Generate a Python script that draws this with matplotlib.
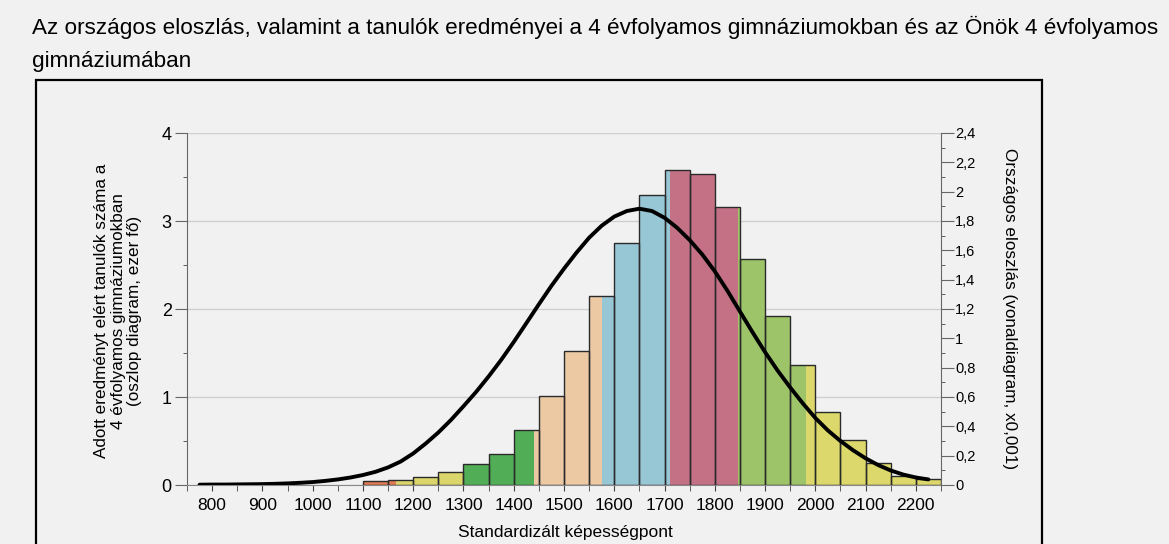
import numpy as np
import matplotlib.pyplot as plt
from matplotlib.patches import Rectangle
from matplotlib.ticker import MultipleLocator, FuncFormatter

plt.rcParams['font.family'] = ['Liberation Sans', 'DejaVu Sans']

BG = "#f1f1f1"

# Histogram: students of 4-year gimnáziums (thousands), bins of 50 points
bin_left = [1100, 1150, 1200, 1250, 1300, 1350, 1400, 1450, 1500, 1550, 1600, 1650,
            1700, 1750, 1800, 1850, 1900, 1950, 2000, 2050, 2100, 2150, 2200]
bin_height = [0.04, 0.055, 0.09, 0.15, 0.24, 0.35, 0.62, 1.01, 1.52, 2.15, 2.75, 3.29,
              3.58, 3.53, 3.16, 2.57, 1.92, 1.36, 0.83, 0.51, 0.25, 0.10, 0.065]
BIN_W = 50

# Proficiency level bands (colour changes inside bars)
level_edges = [1100, 1166, 1302, 1440, 1576, 1711, 1846, 1981, 2250]
level_colors = ["#e07b53", "#dbd66c", "#52ae56", "#ecc8a3", "#97c6d5",
                "#c47186", "#9dc469", "#dcd86b"]

# National distribution curve (right axis, x0.001)
curve_x = [775, 800, 825, 850, 875, 900, 925, 950, 975, 1000, 1025, 1050, 1075,
           1100, 1125, 1150, 1175, 1200, 1225, 1250, 1275, 1300, 1325, 1350, 1375,
           1400, 1425, 1450, 1475, 1500, 1525, 1550, 1575, 1600, 1625, 1650, 1675,
           1700, 1725, 1750, 1775, 1800, 1825, 1850, 1875, 1900, 1925, 1950, 1975,
           2000, 2025, 2050, 2075, 2100, 2125, 2150, 2175, 2200, 2225]
curve_y = [0.002, 0.003, 0.003, 0.004, 0.005, 0.006, 0.008, 0.011, 0.015, 0.020,
           0.028, 0.038, 0.051, 0.068, 0.090, 0.120, 0.160, 0.215, 0.283, 0.358,
           0.443, 0.537, 0.634, 0.740, 0.853, 0.975, 1.103, 1.232, 1.358, 1.475,
           1.585, 1.686, 1.768, 1.830, 1.868, 1.884, 1.868, 1.822, 1.754, 1.670,
           1.572, 1.457, 1.325, 1.183, 1.042, 0.906, 0.780, 0.665, 0.557, 0.457,
           0.372, 0.300, 0.237, 0.182, 0.136, 0.099, 0.071, 0.051, 0.038]

x_ticks = list(range(800, 2201, 100))

fig = plt.figure(figsize=(11.69, 5.44), dpi=100, facecolor=BG)
W, H = 1169, 544
ax = fig.add_axes([187 / W, 1 - 485 / H, (941 - 187) / W, (485 - 133) / H])
ax.set_facecolor(BG)

# coloured bar segments
for left, h in zip(bin_left, bin_height):
    right = left + BIN_W
    for i in range(len(level_colors)):
        a = max(left, level_edges[i])
        b = min(right, level_edges[i + 1])
        if b > a:
            ax.bar(a, h, width=b - a, align="edge", color=level_colors[i],
                   linewidth=0, zorder=2)
    ax.bar(left, h, width=BIN_W, align="edge", fill=False,
           edgecolor="#2a2a2a", linewidth=1.0, zorder=3)

ax.set_xlim(750, 2250)
ax.set_ylim(0, 4)
ax.set_xticks(x_ticks)
ax.xaxis.set_minor_locator(MultipleLocator(50))
ax.yaxis.set_major_locator(MultipleLocator(1))
ax.yaxis.set_minor_locator(MultipleLocator(0.5))
ax.grid(axis="y", color="#cfcfcf", linewidth=1.0, zorder=0)
ax.set_axisbelow(True)
ax.tick_params(axis="x", which="both", length=4, color="#444444", labelsize=12.5, pad=5)
ax.tick_params(axis="y", which="major", length=9, color="#666666", labelsize=13, pad=2)
ax.tick_params(axis="y", which="minor", length=3, color="#444444")
for s in ["top", "right"]:
    ax.spines[s].set_visible(False)
ax.spines["left"].set_color("#666666")
ax.spines["bottom"].set_color("#888888")

ax2 = ax.twinx()
ax2.patch.set_visible(False)
ax2.plot(curve_x, curve_y, color="black", linewidth=2.8, zorder=5,
         solid_capstyle="round", solid_joinstyle="round")
ax2.set_ylim(0, 2.4)
ax2.yaxis.set_major_locator(MultipleLocator(0.2))
ax2.yaxis.set_minor_locator(MultipleLocator(0.1))
ax2.yaxis.set_major_formatter(FuncFormatter(lambda v, p: f"{v:g}".replace(".", ",")))
ax2.tick_params(axis="y", which="major", length=9, color="#666666", labelsize=10.5, pad=1)
ax2.tick_params(axis="y", which="minor", length=3, color="#444444")
for s in ["top", "left", "bottom"]:
    ax2.spines[s].set_visible(False)
ax2.spines["right"].set_color("#666666")

# labels
fig.text(118 / W, 1 - 311 / H,
         "Adott eredményt elért tanulók száma a\n4 évfolyamos gimnáziumokban\n(oszlop diagram, ezer fő)",
         rotation=90, ha="center", va="center", fontsize=12.3, linespacing=1.15)
fig.text(1009 / W, 1 - 309 / H, "Országos eloszlás (vonaldiagram, x0,001)",
         rotation=-90, ha="center", va="center", fontsize=12.3)
fig.text(565 / W, 1 - 532 / H, "Standardizált képességpont",
         ha="center", va="center", fontsize=12.5)

# title
fig.text(32 / W, 1 - 27 / H,
         "Az országos eloszlás, valamint a tanulók eredményei a 4 évfolyamos gimnáziumokban és az Önök 4 évfolyamos",
         ha="left", va="center", fontsize=16.2)
fig.text(32 / W, 1 - 61 / H, "gimnáziumában", ha="left", va="center", fontsize=16.2)

# outer frame
fig.patches.append(Rectangle((36 / W, -0.05), (1042 - 36) / W, 1 - 80 / H + 0.05,
                             transform=fig.transFigure, fill=False,
                             edgecolor="black", linewidth=1.6))

fig.savefig("out.png", dpi=100, facecolor=BG)
